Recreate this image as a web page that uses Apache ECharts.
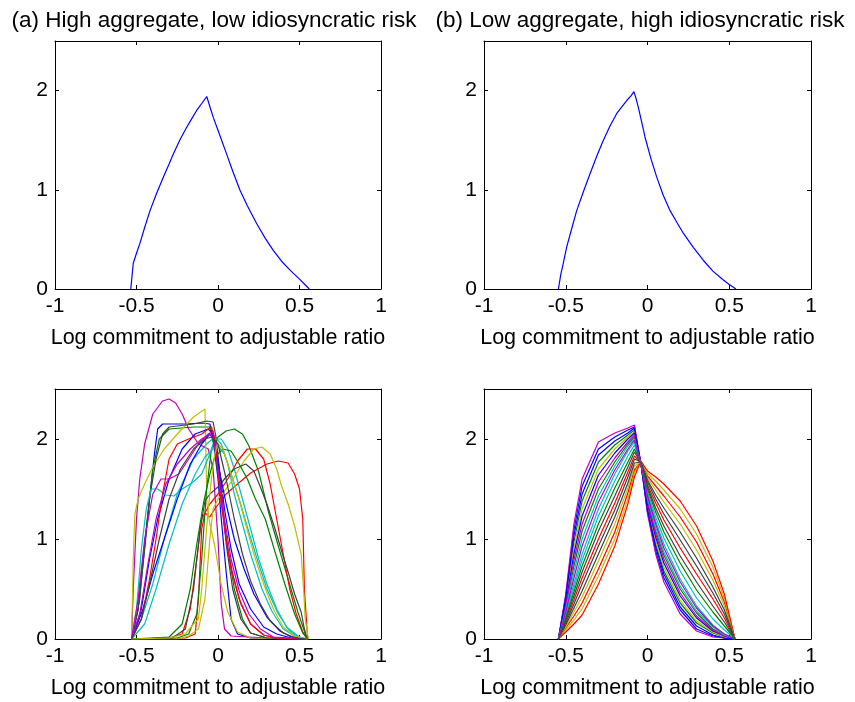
<!DOCTYPE html>
<html><head><meta charset="utf-8">
<script src="https://cdn.jsdelivr.net/npm/echarts@6/dist/echarts.min.js"></script>
<style>html,body{margin:0;padding:0;background:#fff}#c{width:855px;height:702px}</style>
</head><body><div id="c"></div><script>
// ---------- text & ticks ----------
const titles = ['(a) High aggregate, low idiosyncratic risk', '(b) Low aggregate, high idiosyncratic risk'];
const xName = 'Log commitment to adjustable ratio';
const xTicks = [-1, -0.5, 0, 0.5, 1];
const yTicks = [0, 1, 2];

// ---------- top panels (single distribution) ----------
const topA = [[-0.535,0],[-0.52,0.26],[-0.5,0.36],[-0.479,0.46],[-0.45,0.62],[-0.417,0.79],[-0.38,0.95],[-0.335,1.13],[-0.3,1.26],[-0.274,1.36],[-0.235,1.5],[-0.192,1.63],[-0.16,1.72],[-0.131,1.8],[-0.1,1.87],[-0.069,1.94],[-0.05,1.84],[-0.029,1.73],[0.0,1.6],[0.053,1.36],[0.09,1.19],[0.135,0.995],[0.18,0.84],[0.237,0.66],[0.29,0.51],[0.339,0.39],[0.39,0.28],[0.442,0.19],[0.5,0.1],[0.53,0.05],[0.56,0]];
const topB = [[-0.545,0],[-0.53,0.15],[-0.515,0.26],[-0.494,0.425],[-0.465,0.6],[-0.433,0.79],[-0.39,0.99],[-0.352,1.16],[-0.31,1.34],[-0.27,1.5],[-0.23,1.64],[-0.188,1.77],[-0.155,1.84],[-0.127,1.9],[-0.1,1.95],[-0.083,1.99],[-0.07,1.92],[-0.056,1.83],[-0.035,1.68],[-0.015,1.53],[0.02,1.32],[0.056,1.13],[0.095,0.95],[0.138,0.79],[0.18,0.67],[0.22,0.56],[0.28,0.42],[0.341,0.29],[0.4,0.18],[0.464,0.09],[0.5,0.045],[0.541,0]];

// ---------- bottom-left panel: simulated distributions ----------
const blB1 = [[-0.53,0],[-0.49,0.3],[-0.45,0.9],[-0.42,1.4],[-0.39,1.85],[-0.37,2.1],[-0.34,2.15],[-0.2,2.15],[-0.1,2.16],[-0.05,2.15],[-0.03,2.0],[0.0,1.6],[0.02,1.2],[0.05,0.67],[0.08,0.2],[0.12,0.05],[0.2,0.01],[0.55,0]];
const blG1 = [[-0.53,0],[-0.48,0.4],[-0.44,1.1],[-0.4,1.7],[-0.36,2.0],[-0.3,2.1],[-0.15,2.12],[-0.05,2.12],[-0.02,1.9],[0.02,1.4],[0.06,0.9],[0.1,0.5],[0.15,0.2],[0.2,0.06],[0.3,0.01],[0.55,0]];
const blR1 = [[-0.53,0],[-0.2,0.01],[-0.14,0.05],[-0.12,0.4],[-0.1,1.1],[-0.08,1.26],[-0.05,1.22],[-0.02,1.3],[0.05,1.45],[0.12,1.55],[0.2,1.66],[0.3,1.75],[0.37,1.78],[0.43,1.76],[0.47,1.65],[0.5,1.5],[0.52,1.2],[0.53,0.5],[0.55,0]];
const blC1 = [[-0.53,0],[-0.47,0.2],[-0.4,0.55],[-0.33,1.0],[-0.25,1.45],[-0.15,1.8],[-0.07,1.95],[-0.02,2.02],[0.02,1.95],[0.06,1.75],[0.1,1.45],[0.15,1.15],[0.2,0.85],[0.27,0.5],[0.33,0.28],[0.4,0.1],[0.47,0.03],[0.55,0]];
const blM1 = [[-0.53,0],[-0.52,0.5],[-0.5,1.2],[-0.48,1.6],[-0.45,1.95],[-0.4,2.25],[-0.34,2.38],[-0.3,2.4],[-0.26,2.36],[-0.22,2.25],[-0.18,2.1],[-0.12,1.95],[-0.06,1.9],[-0.03,1.7],[0.0,1.0],[0.02,0.35],[0.04,0.1],[0.08,0.03],[0.3,0.01],[0.55,0]];
const blY1 = [[-0.53,0],[-0.52,0.8],[-0.51,1.25],[-0.49,1.4],[-0.45,1.55],[-0.4,1.72],[-0.33,1.9],[-0.25,2.05],[-0.15,2.22],[-0.08,2.3],[-0.07,2.3],[-0.068,1.35],[-0.05,1.15],[-0.02,0.93],[0.02,0.54],[0.06,0.27],[0.12,0.07],[0.2,0.01],[0.55,0]];
const blK1 = [[-0.53,0],[-0.49,0.3],[-0.46,0.8],[-0.42,1.4],[-0.38,1.8],[-0.34,2.05],[-0.3,2.12],[-0.15,2.15],[-0.07,2.18],[-0.03,2.17],[-0.01,2.0],[0.02,1.5],[0.05,0.95],[0.09,0.5],[0.14,0.2],[0.2,0.06],[0.3,0.01],[0.55,0]];
const blB2 = [[-0.53,0],[-0.47,0.3],[-0.42,0.8],[-0.37,1.2],[-0.3,1.6],[-0.22,1.9],[-0.14,2.05],[-0.06,2.1],[-0.03,2.05],[0.0,1.8],[0.04,1.3],[0.08,0.9],[0.13,0.55],[0.2,0.3],[0.28,0.12],[0.36,0.05],[0.45,0.01],[0.55,0]];
const blG2 = [[-0.53,0],[-0.25,0.01],[-0.18,0.05],[-0.13,0.25],[-0.1,0.8],[-0.07,1.5],[-0.04,1.9],[0.0,2.02],[0.05,2.08],[0.1,2.1],[0.15,2.05],[0.19,1.93],[0.25,1.67],[0.31,1.27],[0.37,0.93],[0.43,0.6],[0.49,0.27],[0.54,0.03],[0.55,0]];
const blR2 = [[-0.53,0],[-0.3,0.01],[-0.22,0.05],[-0.17,0.3],[-0.13,0.8],[-0.1,1.2],[-0.05,1.35],[0.0,1.45],[0.06,1.6],[0.12,1.78],[0.18,1.9],[0.23,1.9],[0.28,1.8],[0.32,1.55],[0.36,1.2],[0.4,0.85],[0.44,0.5],[0.48,0.25],[0.52,0.07],[0.55,0]];
const blC2 = [[-0.53,0],[-0.5,0.3],[-0.47,0.9],[-0.44,1.3],[-0.41,1.5],[-0.37,1.5],[-0.32,1.44],[-0.27,1.43],[-0.22,1.5],[-0.16,1.56],[-0.1,1.65],[-0.05,1.85],[-0.02,2.0],[0.02,2.0],[0.06,1.9],[0.1,1.7],[0.15,1.4],[0.2,1.1],[0.25,0.8],[0.3,0.55],[0.36,0.3],[0.42,0.12],[0.5,0.02],[0.55,0]];
const blM2 = [[-0.53,0],[-0.49,0.4],[-0.45,1.0],[-0.4,1.45],[-0.35,1.6],[-0.3,1.6],[-0.24,1.65],[-0.18,1.8],[-0.12,1.95],[-0.06,2.05],[-0.03,2.08],[-0.01,1.9],[0.02,1.4],[0.05,1.0],[0.09,0.65],[0.14,0.35],[0.2,0.15],[0.28,0.04],[0.35,0.01],[0.55,0]];
const blY2 = [[-0.53,0],[-0.25,0.0],[-0.18,0.03],[-0.12,0.1],[-0.08,0.4],[-0.05,1.0],[-0.03,1.3],[0.0,1.4],[0.05,1.5],[0.1,1.62],[0.16,1.78],[0.22,1.9],[0.27,1.92],[0.32,1.85],[0.36,1.7],[0.39,1.53],[0.43,1.35],[0.47,1.13],[0.51,0.85],[0.525,0.5],[0.535,0.2],[0.555,0]];
const blK2 = [[-0.53,0],[-0.28,0.01],[-0.2,0.1],[-0.15,0.5],[-0.11,1.1],[-0.08,1.38],[-0.05,1.45],[0.0,1.52],[0.05,1.62],[0.1,1.7],[0.17,1.75],[0.22,1.68],[0.26,1.52],[0.3,1.35],[0.35,1.1],[0.39,0.88],[0.43,0.67],[0.47,0.45],[0.51,0.27],[0.53,0.1],[0.545,0]];
const blB3 = [[-0.53,0],[-0.46,0.3],[-0.4,0.65],[-0.33,1.0],[-0.25,1.4],[-0.17,1.75],[-0.1,1.95],[-0.05,2.05],[-0.03,2.0],[0.0,1.75],[0.05,1.35],[0.1,1.0],[0.16,0.7],[0.22,0.45],[0.3,0.22],[0.38,0.08],[0.45,0.02],[0.55,0]];
const blG3 = [[-0.53,0],[-0.3,0.02],[-0.22,0.15],[-0.17,0.5],[-0.13,0.95],[-0.09,1.35],[-0.05,1.65],[-0.02,1.82],[0.03,1.9],[0.08,1.88],[0.13,1.75],[0.18,1.6],[0.23,1.4],[0.29,1.2],[0.35,0.87],[0.41,0.55],[0.47,0.25],[0.52,0.06],[0.55,0]];
const blR3 = [[-0.53,0],[-0.47,0.2],[-0.42,0.6],[-0.38,1.0],[-0.34,1.45],[-0.3,1.8],[-0.25,1.95],[-0.18,2.0],[-0.1,2.05],[-0.06,2.1],[-0.04,2.12],[-0.02,2.0],[0.01,1.5],[0.04,1.1],[0.08,0.7],[0.13,0.4],[0.2,0.15],[0.28,0.04],[0.36,0.01],[0.55,0]];
const blC3 = [[-0.53,0],[-0.45,0.15],[-0.38,0.5],[-0.3,0.95],[-0.22,1.35],[-0.14,1.65],[-0.08,1.82],[-0.03,1.9],[0.0,1.93],[0.04,1.85],[0.08,1.65],[0.13,1.4],[0.18,1.12],[0.24,0.8],[0.3,0.5],[0.37,0.25],[0.44,0.08],[0.5,0.01],[0.55,0]];
const blM3 = [[-0.53,0],[-0.48,0.25],[-0.43,0.75],[-0.38,1.2],[-0.32,1.55],[-0.25,1.75],[-0.17,1.9],[-0.1,2.0],[-0.05,2.05],[-0.03,2.02],[0.0,1.7],[0.04,1.2],[0.08,0.8],[0.13,0.48],[0.19,0.25],[0.26,0.1],[0.34,0.02],[0.55,0]];
const blY3 = [[-0.53,0],[-0.3,0.01],[-0.2,0.05],[-0.15,0.15],[-0.12,0.2],[-0.1,0.5],[-0.08,0.9],[-0.06,1.3],[-0.04,1.6],[-0.02,1.85],[0.0,1.95],[0.03,1.9],[0.07,1.7],[0.12,1.45],[0.17,1.15],[0.22,0.85],[0.28,0.55],[0.34,0.3],[0.4,0.12],[0.47,0.03],[0.55,0]];
const blK3 = [[-0.53,0],[-0.47,0.2],[-0.42,0.55],[-0.36,1.0],[-0.3,1.4],[-0.23,1.7],[-0.15,1.9],[-0.08,2.0],[-0.04,2.02],[0.0,1.95],[0.05,1.6],[0.1,1.2],[0.15,0.85],[0.2,0.58],[0.26,0.35],[0.32,0.18],[0.4,0.06],[0.48,0.01],[0.55,0]];

// ---------- bottom-right panel: shared x grid, one y list per curve ----------
const brX  = [-0.545,-0.5,-0.45,-0.4,-0.3,-0.2,-0.12,-0.08,-0.04,0,0.05,0.1,0.2,0.3,0.4,0.47,0.535];
const brB1 = [0,0.43,1.09,1.53,1.9,2.02,2.09,2.12,1.75,1.27,0.88,0.61,0.29,0.1,0.03,0.01,0];
const brG1 = [0,0.39,0.97,1.38,1.77,1.94,2.04,2.09,1.75,1.31,0.95,0.68,0.36,0.16,0.06,0.02,0];
const brR1 = [0,0.18,0.39,0.61,1.0,1.36,1.67,1.83,1.76,1.54,1.36,1.19,0.91,0.65,0.4,0.21,0];
const brC1 = [0,0.25,0.55,0.85,1.3,1.65,1.88,1.97,1.75,1.45,1.18,0.95,0.6,0.33,0.14,0.05,0];
const brM1 = [0,0.45,1.15,1.6,1.97,2.06,2.11,2.14,1.75,1.25,0.85,0.57,0.25,0.08,0.02,0.01,0];
const brY1 = [0,0.37,0.91,1.3,1.7,1.9,2.02,2.07,1.75,1.33,0.98,0.72,0.39,0.18,0.07,0.02,0];
const brK1 = [0,0.2,0.43,0.67,1.08,1.43,1.72,1.87,1.76,1.52,1.31,1.13,0.83,0.57,0.33,0.17,0];
const brB2 = [0,0.35,0.85,1.23,1.64,1.86,2.0,2.06,1.75,1.35,1.02,0.76,0.43,0.21,0.08,0.03,0];
const brG2 = [0,0.31,0.73,1.08,1.5,1.77,1.95,2.02,1.75,1.39,1.08,0.84,0.5,0.26,0.1,0.04,0];
const brR2 = [0,0.11,0.23,0.36,0.7,1.07,1.46,1.69,1.77,1.63,1.53,1.43,1.22,0.97,0.65,0.37,0];
const brC2 = [0,0.23,0.51,0.79,1.23,1.58,1.83,1.94,1.75,1.47,1.22,1.01,0.68,0.41,0.2,0.09,0];
const brM2 = [0,0.33,0.79,1.15,1.57,1.81,1.97,2.04,1.75,1.37,1.05,0.8,0.46,0.23,0.09,0.03,0];
const brY2 = [0,0.09,0.19,0.3,0.63,1.0,1.4,1.66,1.78,1.66,1.58,1.49,1.3,1.05,0.72,0.41,0];
const brK2 = [0,0.16,0.35,0.55,0.93,1.29,1.62,1.8,1.77,1.57,1.4,1.25,0.99,0.73,0.46,0.25,0];
const brB3 = [0,0.41,1.03,1.45,1.84,1.98,2.06,2.11,1.75,1.29,0.92,0.65,0.32,0.13,0.04,0.01,0];
const brG3 = [0,0.21,0.47,0.73,1.15,1.51,1.77,1.9,1.76,1.5,1.27,1.07,0.76,0.49,0.27,0.13,0];
const brR3 = [0,0.07,0.15,0.24,0.55,0.93,1.35,1.62,1.78,1.68,1.62,1.55,1.38,1.13,0.78,0.45,0];
const brC3 = [0,0.29,0.67,1.0,1.43,1.73,1.93,2.0,1.75,1.41,1.11,0.87,0.53,0.28,0.12,0.04,0];
const brM3 = [0,0.27,0.61,0.93,1.37,1.69,1.9,1.99,1.75,1.43,1.15,0.91,0.57,0.31,0.13,0.05,0];
const brY3 = [0,0.12,0.27,0.42,0.78,1.15,1.51,1.73,1.77,1.61,1.49,1.37,1.15,0.89,0.59,0.33,0];
const brK3 = [0,0.14,0.31,0.48,0.85,1.22,1.56,1.76,1.77,1.59,1.44,1.31,1.07,0.81,0.52,0.29,0];

// ---------- styling ----------
const cycle = ['#0000FF','#008000','#FF0000','#00BFBF','#BF00BF','#BFBF00','#404040'];
const FONT = '"Liberation Sans", Arial, Helvetica, sans-serif';
const FS = 21;

const blCurves = [blB1,blG1,blR1,blC1,blM1,blY1,blK1,blB2,blG2,blR2,blC2,blM2,blY2,blK2,blB3,blG3,blR3,blC3,blM3,blY3,blK3];
const brCurves = [brB1,brG1,brR1,brC1,brM1,brY1,brK1,brB2,brG2,brR2,brC2,brM2,brY2,brK2,brB3,brG3,brR3,brC3,brM3,brY3,brK3];

const grids = [
  {left:55, top:41, width:326, height:248},
  {left:484, top:41, width:327, height:248},
  {left:55, top:389, width:326, height:250},
  {left:484, top:389, width:327, height:250}
].map(g => Object.assign({containLabel:false, outerBoundsMode:'none', show:false}, g));

const xAxes = [], yAxes = [];
function xAx(gi, pos, main) {
  return {type:'value', gridIndex:gi, position:pos, min:xTicks[0], max:xTicks[xTicks.length-1], interval:0.5,
    axisLine:{show:true, onZero:false, lineStyle:{color:'#000', width:1}},
    axisTick:{show:true, inside:true, length:4, lineStyle:{color:'#000', width:1}},
    axisLabel:{show:main, margin:7, color:'#000', fontSize:FS, fontFamily:FONT},
    splitLine:{show:false},
    name: main ? xName : '', nameLocation:'middle', nameGap:38,
    nameTextStyle:{color:'#000', fontSize:21.5, fontFamily:FONT}};
}
function yAx(gi, pos, main) {
  return {type:'value', gridIndex:gi, position:pos, min:0, max:2.5, interval:1,
    axisLine:{show:true, onZero:false, lineStyle:{color:'#000', width:1}},
    axisTick:{show:true, inside:true, length:4, customValues:yTicks, lineStyle:{color:'#000', width:1}},
    axisLabel:{show:main, margin:7, customValues:yTicks, color:'#000', fontSize:FS, fontFamily:FONT},
    splitLine:{show:false}};
}
for (let g = 0; g < 4; g++) { xAxes.push(xAx(g, 'bottom', true)); yAxes.push(yAx(g, 'left', true)); }
for (let g = 0; g < 4; g++) { xAxes.push(xAx(g, 'top', false)); yAxes.push(yAx(g, 'right', false)); }

const series = [];
function addLine(data, gi, color) {
  series.push({type:'line', xAxisIndex:gi, yAxisIndex:gi, data:data, showSymbol:false, symbol:'none',
    lineStyle:{color:color, width:1.2}, itemStyle:{color:color}, silent:true, animation:false, clip:true});
}
addLine(topA, 0, '#0000FF');
addLine(topB, 1, '#0000FF');
blCurves.forEach((c, i) => addLine(c, 2, cycle[i % 7]));
brCurves.forEach((ys, i) => addLine(brX.map((x, k) => [x, ys[k]]), 3, cycle[i % 7]));

const chart = echarts.init(document.getElementById('c'), null, {renderer:'canvas'});
chart.setOption({
  animation:false,
  backgroundColor:'#fff',
  grid:grids, xAxis:xAxes, yAxis:yAxes, series:series,
  graphic:[
    {type:'text', x:214, y:9, style:{text:titles[0], fontSize:22.5, fontFamily:FONT, fill:'#000', align:'center', verticalAlign:'top'}},
    {type:'text', x:640, y:9, style:{text:titles[1], fontSize:22.5, fontFamily:FONT, fill:'#000', align:'center', verticalAlign:'top'}}
  ]
});
</script></body></html>
